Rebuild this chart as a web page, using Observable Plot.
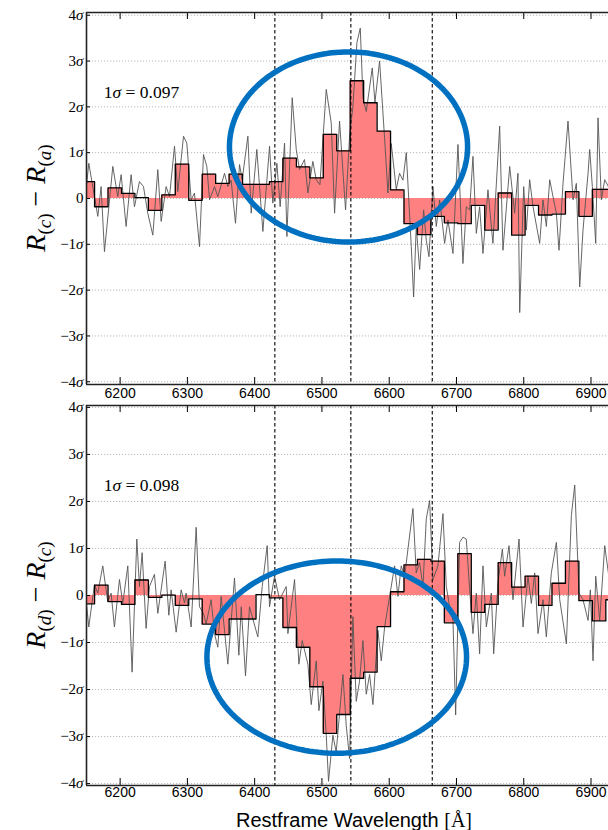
<!DOCTYPE html>
<html><head><meta charset="utf-8">
<script src="https://cdn.jsdelivr.net/npm/d3@7"></script>
<script src="https://cdn.jsdelivr.net/npm/@observablehq/plot@0.6"></script>
<style>
body{margin:0;background:#fff;width:608px;height:830px;overflow:hidden}
#chart{position:relative;width:608px;height:830px}
#chart svg{display:block;overflow:visible}
</style></head><body><div id="chart"></div>
<script>
// ---- data ----
const binStart = 6142, binWidth = 20;            // bin edges (Å)
const binsCA = [0.37,-0.18,0.23,0.11,0.02,-0.26,0.08,0.75,-0.04,0.53,0.33,0.53,0.31,0.31,0.37,0.88,0.69,0.45,1.40,1.04,2.57,2.09,1.47,0.19,-0.55,-0.79,-0.39,-0.53,-0.55,-0.15,-0.69,0.12,-0.80,-0.15,-0.36,-0.34,0.15,-0.39,0.20,0.20];
const binsDC = [-0.18,0.22,-0.13,-0.19,0.33,-0.04,0.01,-0.21,-0.07,-0.61,-0.83,-0.50,-0.50,0.02,-0.05,-0.68,-1.10,-1.94,-2.93,-2.53,-1.76,-1.63,-0.66,0.08,0.65,0.77,0.73,-0.58,0.89,-0.36,-0.19,0.70,0.18,0.41,-0.21,0.26,0.73,-0.11,-0.54,-0.09];
const noiseCA = [[6149.4,0.19],[6153.4,0.77],[6166.8,-0.39],[6171.7,0.26],[6176.7,-1.16],[6189.1,0.70],[6196.5,0.04],[6201.5,0.52],[6208.9,-0.61],[6216.3,0.52],[6221.3,-0.18],[6228.7,0.37],[6234.7,0.26],[6241.1,-0.32],[6248.6,-0.80],[6256.0,0.63],[6261.0,-0.50],[6268.4,0.26],[6273.4,0.04],[6280.8,1.14],[6285.7,0.15],[6294.2,1.36],[6299.1,1.21],[6305.6,-0.03],[6310.5,0.12],[6318.0,-1.05],[6323.9,0.96],[6328.9,0.70],[6332.9,-0.03],[6340.3,0.26],[6345.2,0.04],[6355.2,0.55],[6360.1,0.26],[6365.0,0.40],[6371.5,-0.54],[6377.5,0.74],[6381.4,0.41],[6389.9,1.36],[6394.8,-0.32],[6403.2,1.07],[6412.2,-0.72],[6422.1,1.14],[6427.0,-0.10],[6433.0,0.77],[6437.9,-0.18],[6444.4,1.21],[6447.9,-0.83],[6455.8,2.20],[6461.8,1.07],[6466.7,0.63],[6474.1,0.85],[6479.1,0.12],[6486.5,0.81],[6491.5,0.41],[6497.0,0.30],[6506.4,2.38],[6513.8,1.65],[6518.8,-0.32],[6526.2,1.69],[6535.1,-0.25],[6541.1,1.36],[6546.0,2.0],[6552.0,3.4],[6557.0,3.72],[6561.0,2.2],[6565.9,1.9],[6574.8,2.85],[6578.8,2.1],[6585.7,3.0],[6593.2,1.3],[6598.1,0.12],[6603.0,1.2],[6610.5,0.2],[6615.4,0.55],[6620.4,0.4],[6625.4,1.0],[6632.8,-1.05],[6636.3,-2.15],[6640.2,-0.61],[6645.2,-1.55],[6651.2,-0.25],[6655.1,-0.91],[6659.1,-1.27],[6665.0,0.26],[6670.0,-0.61],[6675.0,-0.03],[6682.4,-0.98],[6687.3,-0.47],[6694.8,-1.20],[6702.2,1.18],[6709.6,-1.42],[6714.6,-0.18],[6719.6,-0.25],[6724.5,0.92],[6729.5,-0.76],[6734.4,-0.18],[6739.4,-1.20],[6746.8,0.19],[6754.2,-0.98],[6764.2,1.58],[6769.1,-1.13],[6779.1,0.70],[6786.5,-0.32],[6791.4,0.55],[6794.0,-2.49],[6799.9,0.26],[6803.9,-0.69],[6808.8,0.41],[6813.8,-0.18],[6823.7,-0.98],[6828.6,-0.03],[6833.6,-0.61],[6838.6,0.41],[6843.5,0.04],[6848.5,-0.32],[6852.4,-1.13],[6858.4,0.33],[6865.8,1.69],[6873.3,-0.03],[6878.2,0.33],[6883.2,-1.93],[6888.1,-0.69],[6895.6,0.55],[6898.0,1.07],[6902.0,0.26],[6907.0,-0.98],[6910.4,1.76],[6915.4,-0.03],[6920.4,0.41],[6925.8,0.26]];
const noiseDC = [[6149.4,-0.09],[6153.4,-0.67],[6161.8,0.23],[6166.8,0.05],[6174.2,0.63],[6181.6,-0.13],[6186.6,0.05],[6191.5,-0.67],[6199.0,0.34],[6203.9,-0.17],[6211.4,0.63],[6217.8,-1.63],[6224.8,1.20],[6228.7,0.19],[6232.7,0.91],[6238.6,-0.70],[6243.6,0.19],[6251.0,0.45],[6256.0,-0.38],[6266.9,0.73],[6272.4,-0.42],[6275.8,0.12],[6283.3,-0.78],[6290.7,0.12],[6295.7,-0.16],[6298.1,0.05],[6305.6,-0.67],[6313.0,1.45],[6318.0,-0.24],[6323.9,-0.38],[6327.9,-0.60],[6335.3,-0.09],[6340.3,-0.81],[6345.2,-1.10],[6350.2,-0.02],[6360.1,-1.46],[6370.0,0.37],[6376.5,-1.27],[6380.0,-0.24],[6386.4,-1.71],[6392.3,-0.24],[6404.7,-0.88],[6411.2,0.19],[6418.6,1.06],[6422.1,-0.24],[6429.5,0.41],[6437.0,-0.09],[6446.9,0.19],[6449.4,-0.81],[6459.3,0.34],[6465.7,-1.46],[6470.7,-0.96],[6479.1,-1.46],[6484.1,-2.32],[6491.5,-1.39],[6495.5,-2.45],[6501.4,-1.82],[6506.4,-2.97],[6509.8,-3.95],[6516.3,-2.97],[6521.2,-3.33],[6531.2,-1.68],[6536.1,-2.76],[6541.1,-3.47],[6546.0,-0.45],[6551.0,-2.25],[6555.9,-1.82],[6560.9,-0.96],[6565.9,-2.10],[6570.8,-1.68],[6575.8,-2.32],[6583.2,-0.74],[6588.2,-1.39],[6593.2,-0.67],[6598.1,-0.24],[6608.0,0.63],[6613.0,-0.02],[6617.9,0.63],[6622.9,0.41],[6635.3,1.85],[6640.2,0.48],[6645.2,0.70],[6650.2,0.19],[6655.1,1.63],[6660.1,2.02],[6665.0,0.34],[6672.5,0.63],[6679.9,1.74],[6684.9,0.19],[6689.8,-0.24],[6694.8,-0.53],[6698.8,-2.54],[6704.7,1.13],[6709.7,1.24],[6714.6,1.20],[6719.6,0.12],[6724.5,-0.81],[6729.5,0.05],[6734.4,-1.24],[6739.4,0.63],[6744.4,-0.67],[6751.8,0.05],[6755.3,-1.24],[6761.7,0.27],[6768.2,0.99],[6771.6,0.41],[6778.1,1.06],[6784.0,-0.09],[6793.0,1.20],[6798.9,-0.67],[6806.3,0.41],[6811.3,-0.17],[6816.3,0.48],[6821.2,-0.81],[6828.7,-0.09],[6833.6,-0.88],[6841.0,0.48],[6848.5,1.13],[6853.5,-0.09],[6863.4,-1.03],[6870.8,1.70],[6875.8,2.35],[6882.2,0.05],[6888.1,-0.09],[6895.6,-0.53],[6899.0,0.12],[6903.0,-1.39],[6907.0,0.41],[6912.9,-0.53],[6920.4,1.06],[6925.8,0.48]];
const lineMarkers = [6430, 6543, 6664];
const xTicks = [6200, 6300, 6400, 6500, 6600, 6700, 6800, 6900];
const sigmaTicks = [-4, -3, -2, -1, 0, 1, 2, 3, 4];
const sigmaNotes = ["0.097", "0.098"];
const ellipseCA = {cx: 6539.5, cy: 1.125, rx: 177, ry: 2.075};
const ellipseDC = {cx: 6522, cy: -1.31, rx: 193, ry: 2.045};

const W = 608, ML = 86;
const xDomain = [6150, 6926];

function sigmaFmt(v) { return v === 0 ? "0" : (v < 0 ? "\u2212" + (-v) : String(v)) + "σ"; }

function panel(o) {
  const innerH = o.height - o.marginTop - o.marginBottom;
  const innerW = W - ML;
  const binData = o.bins.map((v, i) => ({x1: binStart + i*binWidth, x2: binStart + (i+1)*binWidth, y: v}));
  const stepPts = binData.map(d => ({x: d.x1, y: d.y})).concat([{x: binData.at(-1).x2, y: binData.at(-1).y}]);
  const noise = o.noise.map(([x, y]) => ({x, y}));
  const e = o.ellipse;
  const ell = d3.range(0, 361, 2).map(a => ({x: e.cx + e.rx*Math.cos(a*Math.PI/180), y: e.cy + e.ry*Math.sin(a*Math.PI/180)}));
  const svg = Plot.plot({
    width: W, height: o.height, marginLeft: ML, marginRight: 0, marginTop: o.marginTop, marginBottom: o.marginBottom,
    style: {fontFamily: "'Liberation Sans', Arial, sans-serif", fontSize: "14px", color: "#000", background: "transparent", overflow: "visible"},
    x: {domain: xDomain, ticks: xTicks, tickSize: 0, tickPadding: o.xPad, tickFormat: d => String(d), label: null},
    y: {domain: o.yDomain, ticks: sigmaTicks, tickSize: 0, tickPadding: 3, tickFormat: sigmaFmt, label: null},
    marks: [
      Plot.ruleY(sigmaTicks, {stroke: "#b0b0b0", strokeDasharray: "1.2,1.8", strokeWidth: 0.9}),
      Plot.areaY(stepPts, {x: "x", y: "y", curve: "step-after", fill: "#ff8080", clip: true}),
      Plot.line(noise, {x: "x", y: "y", stroke: "#555", strokeWidth: 0.9, clip: true}),
      Plot.line(stepPts, {x: "x", y: "y", curve: "step-after", stroke: "#000", strokeWidth: 1.3, clip: true}),
      Plot.ruleX(lineMarkers, {stroke: "#000", strokeDasharray: "3.5,2.5", strokeWidth: 1.1}),
      Plot.ruleX(xTicks, {stroke: "#000", strokeWidth: 1, insetBottom: innerH - 7}),
      Plot.ruleX(xTicks, {stroke: "#000", strokeWidth: 1, insetTop: innerH - 7}),
      Plot.ruleY(sigmaTicks, {stroke: "#000", strokeWidth: 1, insetRight: innerW - 4}),
      Plot.ruleX([xDomain[0]], {stroke: "#222", strokeWidth: 1.6}),
      Plot.ruleY(o.yDomain, {stroke: "#222", strokeWidth: 1.6}),
      Plot.line(ell, {x: "x", y: "y", stroke: "#0070c0", strokeWidth: 5.5})
    ]
  });
  const s = d3.select(svg);
  // italic sigma in tick labels
  s.selectAll('g[aria-label="y-axis tick label"] text').each(function() {
    const t = this.textContent;
    if (t.endsWith("σ")) {
      this.textContent = t.slice(0, -1);
      d3.select(this).append("tspan").attr("font-style", "italic").text("σ");
    }
  }).attr("font-family", "'Liberation Serif', serif").attr("font-size", 15);
  // 1σ note
  const sx = svg.scale("x"), sy = svg.scale("y");
  const note = s.append("text")
    .attr("x", sx.apply(6176.5)).attr("y", sy.apply(o.noteY)).attr("dy", "0.35em")
    .attr("text-anchor", "start")
    .attr("font-family", "'Liberation Serif', serif").attr("font-size", 17.5);
  note.append("tspan").text("1");
  note.append("tspan").attr("font-style", "italic").text("σ");
  note.append("tspan").text(" = " + o.note);
  // y title
  const yc = (sy.apply(o.yDomain[0]) + sy.apply(o.yDomain[1])) / 2;
  const t = s.append("text")
    .attr("transform", `translate(45,${yc}) rotate(-90)`)
    .attr("text-anchor", "middle")
    .attr("font-family", "'Liberation Serif', serif").attr("font-size", 28);
  t.append("tspan").attr("font-style", "italic").text("R");
  t.append("tspan").attr("font-size", 19).attr("dy", 6).text("(");
  t.append("tspan").attr("font-size", 19).attr("font-style", "italic").text(o.sub1);
  t.append("tspan").attr("font-size", 19).text(")");
  t.append("tspan").attr("dy", -6).text(" \u2212 ");
  t.append("tspan").attr("font-style", "italic").text("R");
  t.append("tspan").attr("font-size", 19).attr("dy", 6).text("(");
  t.append("tspan").attr("font-size", 19).attr("font-style", "italic").text(o.sub2);
  t.append("tspan").attr("font-size", 19).text(")");
  return svg;
}

const chart = document.getElementById("chart");
chart.appendChild(panel({bins: binsCA, noise: noiseCA, ellipse: ellipseCA, note: sigmaNotes[0], noteY: 2.32,
  height: 405, marginTop: 12, marginBottom: 21, yDomain: [-4.06, 4.06], xPad: 4, sub1: "c", sub2: "a"}));
const bottom = panel({bins: binsDC, noise: noiseDC, ellipse: ellipseDC, note: sigmaNotes[1], noteY: 2.35,
  height: 425, marginTop: 0, marginBottom: 45, yDomain: [-4.04, 4.04], xPad: 2, sub1: "d", sub2: "c"});
chart.appendChild(bottom);
// x title
const xt = d3.select(bottom).append("text")
  .attr("x", 354).attr("y", 422).attr("text-anchor", "middle")
  .attr("font-family", "'Liberation Sans', Arial, sans-serif").attr("font-size", 20);
xt.append("tspan").text("Restframe Wavelength ");
xt.append("tspan").attr("font-family", "'Liberation Serif', serif").text("[Å]");
</script></body></html>
